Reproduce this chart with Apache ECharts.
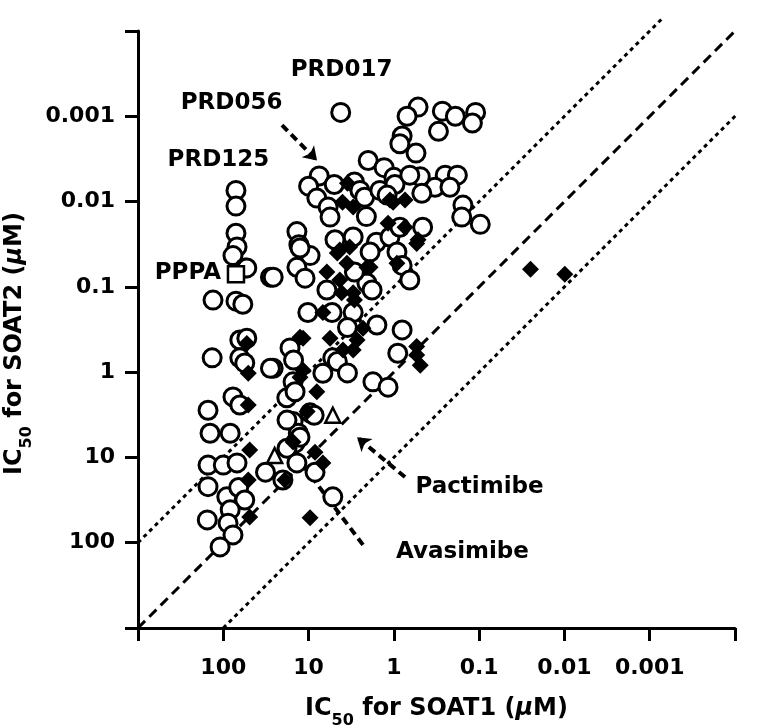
<!DOCTYPE html>
<html><head><meta charset="utf-8">
<script src="https://cdn.jsdelivr.net/npm/echarts@6/dist/echarts.min.js"></script>
<style>html,body{margin:0;padding:0;background:#fff}#c{width:783px;height:728px}</style>
</head><body><div id="c"></div>
<script>
const FONT = 'DejaVu Sans';
// axis ticks (log scale, µM)
const tickValues = [1000, 100, 10, 1, 0.1, 0.01, 0.001, 0.0001];
const tickLabels = ['', '100', '10', '1', '0.1', '0.01', '0.001', ''];

// open circles: IC50 SOAT1, IC50 SOAT2 (µM)
const circleSOAT1 = [4.2,2.0,1.3,7.5,10,5.0,2.9,2.5,8.0,5.9,5.6,2.2,2.1,1.46,1.0,3.0,13.7,13,9.6,13.7,4.9,6.1,1.6,2.07,1.11,
  71,71,71,69,77,56,28,0.52,0.70,0.27,0.19,0.11,0.12,0.30,0.80,0.85,0.55,0.97,0.49,0.65,0.25,0.18,0.33,0.22,0.47,0.155,0.16,0.097,0.46,1.2,0.85,
  26,12.6,11,10.2,5.3,2.9,3.0,1.8,1.9,0.92,0.80,0.65,1.58,3.5,0.80,0.9,16.5,15,5.2,4.6,6.8,3.5,26,18,15.2,14.4,1.76,1.17,9.6,15.2,13.2,
  132,71,59,135,64,53,64,56,28,151,77,64,53,143,83,151,100,69,151,91,66,56,154,83,88,77,109,32,17.9,14.4,17.9,12.6,13.7,20,8.6,8.4,5.2];
const circleSOAT2 = [0.0009,0.0033,0.004,0.005,0.0066,0.0063,0.0059,0.0074,0.0091,0.0116,0.0152,0.0089,0.015,0.0074,0.0052,0.026,0.0225,0.032,0.043,0.059,0.028,0.109,0.030,0.09,0.026,
  0.0074,0.0113,0.0235,0.034,0.043,0.06,0.077,0.00078,0.001,0.00087,0.001,0.0009,0.0012,0.0015,0.0017,0.0021,0.0027,0.0063,0.0051,0.0049,0.0049,0.0049,0.0068,0.0068,0.008,0.011,0.0152,0.0185,0.02,0.0084,0.02,
  0.077,0.035,0.079,0.2,0.2,0.067,0.2,0.109,0.039,0.039,0.056,0.083,0.28,0.30,0.32,0.6,0.52,0.72,0.68,0.75,1.03,1.02,0.9,2.0,1.3,1.7,1.3,1.5,3.0,3.8,5.2,
  0.143,0.147,0.16,0.68,0.42,0.40,0.68,0.78,0.9,2.8,1.95,2.43,0.06,5.2,5.2,12.3,12.3,11.6,22,29,22.5,31.6,54,41,59,81,112,14.9,3.65,6.8,7.8,5.8,11.6,18.4,3.2,14.9,29];

// filled diamonds
const diamondSOAT1 = [3.5,4.0,3.0,1.02,1.17,4.3,6.1,2.07,3.0,1.11,0.74,0.74,0.52,4.1,4.3,2.9,6.8,3.55,1.9,0.92,11.6,5.6,2.7,2.3,3.95,3.0,
  0.54,0.54,0.49,11.6,12.6,8.0,10.4,3.3,4.6,0.54,53,51,51,12.6,49,15.2,8.4,6.8,51,19,9.6,49,0.025,0.0099];
const diamondSOAT2 = [0.0061,0.0102,0.0116,0.0102,0.018,0.037,0.067,0.059,0.117,0.0096,0.0096,0.02,0.028,0.117,0.083,0.143,0.2,0.053,0.059,0.053,0.40,0.4,0.42,0.305,0.55,0.55,
  0.50,0.63,0.83,0.95,1.15,1.7,2.9,0.034,0.040,0.031,0.46,1.03,2.43,0.39,8.2,6.6,8.7,11.6,18.4,18.4,51,50,0.062,0.071];

// open square (PPPA) and open triangles (Pactimibe, Avasimibe)
const squareSOAT1 = [71];
const squareSOAT2 = [0.071];
const triangleSOAT1 = [5.2, 25];
const triangleSOAT2 = [3.2, 9.5];

// reference lines: SOAT2 = SOAT1/10, SOAT2 = SOAT1, SOAT2 = 10*SOAT1
const upperDotted = [[1000, 100], [0.0007, 0.00007]];
const identityLine = [[1000, 1000], [0.0001, 0.0001]];
const lowerDotted = [[100, 1000], [0.00003, 0.0003]];

// annotations (anchored in data coordinates)
const annotText = ['PRD017', 'PRD056', 'PRD125', 'PPPA', 'Pactimibe', 'Avasimibe'];
const annotSOAT1 = [4.1, 80, 114, 260, 0.099, 0.157];
const annotSOAT2 = [0.00029, 0.0007, 0.0033, 0.068, 22.3, 130];
const arrowFrom = [[20.5, 0.00127], [0.74, 17], [2.3, 106]];
const arrowTo = [[7.96, 0.0033], [2.7, 5.8], [13.7, 10]];
const arrowHead = [true, true, false];

function fmt(v) {
  const e = Math.round(Math.log10(v));
  const i = tickValues.findIndex(t => Math.round(Math.log10(t)) === e);
  return i >= 0 ? tickLabels[i] : '';
}
const zip = (a, b) => a.map((x, i) => [x, b[i]]);

const richName = {
  a: {fontFamily: FONT, fontWeight: 'bold', fontSize: 24, lineHeight: 26, verticalAlign: 'top', color: '#000'},
  i: {fontFamily: FONT, fontWeight: 'bold', fontStyle: 'italic', fontSize: 24, lineHeight: 26, verticalAlign: 'top', color: '#000'},
  s: {fontFamily: FONT, fontWeight: 'bold', fontSize: 16, lineHeight: 16, padding: [16, 0, 0, 0], verticalAlign: 'top', color: '#000'}
};
function axisCommon() {
  return {
    type: 'log', logBase: 10, min: 0.0001, max: 1000, interval: 1, inverse: true,
    axisLine: {show: true, onZero: false, lineStyle: {color: '#000', width: 3}},
    axisTick: {show: true, inside: false, length: 13, lineStyle: {color: '#000', width: 3}},
    axisLabel: {formatter: fmt, color: '#000', fontFamily: FONT, fontWeight: 'bold', fontSize: 22, showMinLabel: true, showMaxLabel: true},
    splitLine: {show: false},
    nameLocation: 'middle'
  };
}
const xAxis = Object.assign(axisCommon(), {name: '{a|IC}{s|50}{a| for SOAT1 (}{i|μ}{a|M)}', nameGap: 69,
  nameTextStyle: {rich: richName}});
xAxis.axisLabel.margin = 29;
const yAxis = Object.assign(axisCommon(), {name: '{a|IC}{s|50}{a| for SOAT2 (}{i|μ}{a|M)}', nameGap: 108,
  nameTextStyle: {rich: richName, padding: [0, 28, 0, 0]}});
yAxis.axisLabel.margin = 23;

const refLine = (data, type) => ({
  type: 'line', data, symbol: 'none', showSymbol: false, clip: false, silent: true, z: 1,
  lineStyle: {color: '#000', width: 3, type}
});

const option = {
  animation: false,
  backgroundColor: '#fff',
  grid: {left: 138, right: 48, top: 31, bottom: 100, containLabel: false, outerBoundsMode: 'none'},
  xAxis, yAxis,
  series: [
    refLine(upperDotted, [4, 4]),
    refLine(identityLine, [10, 6]),
    refLine(lowerDotted, [4, 4]),
    {
      type: 'lines', coordinateSystem: 'cartesian2d', silent: true, z: 2,
      data: arrowFrom.map((f, i) => ({coords: [f, arrowTo[i]], symbol: ['none', arrowHead[i] ? 'arrow' : 'none'], symbolSize: 13})),
      lineStyle: {color: '#000', width: 4, type: [8, 5], opacity: 1}
    },
    {type: 'scatter', symbol: 'circle', symbolSize: 18, z: 3, silent: true,
      itemStyle: {color: '#fff', borderColor: '#000', borderWidth: 3, opacity: 1},
      data: zip(circleSOAT1, circleSOAT2)},
    {type: 'scatter', symbol: 'diamond', symbolSize: 17, z: 4, silent: true,
      itemStyle: {color: '#000', opacity: 1},
      data: zip(diamondSOAT1, diamondSOAT2)},
    {type: 'scatter', symbol: 'rect', symbolSize: 16, z: 5, silent: true,
      itemStyle: {color: '#fff', borderColor: '#000', borderWidth: 2.5, opacity: 1},
      data: zip(squareSOAT1, squareSOAT2)},
    {type: 'scatter', symbol: 'triangle', symbolSize: 15, z: 5, silent: true,
      itemStyle: {color: '#fff', borderColor: '#000', borderWidth: 2.5, opacity: 1},
      data: zip(triangleSOAT1, triangleSOAT2)}
  ]
};
const chart = echarts.init(document.getElementById('c'), null, {renderer: 'canvas'});
chart.setOption(option);
const graphics = annotText.map((t, i) => {
  const p = chart.convertToPixel({gridIndex: 0}, [annotSOAT1[i], annotSOAT2[i]]);
  return {type: 'text', x: p[0], y: p[1], z: 10, silent: true,
    style: {text: t, fill: '#000', font: 'bold 23px "DejaVu Sans"', align: 'center', verticalAlign: 'middle'}};
});
chart.setOption({graphic: graphics});
</script>
</body></html>
